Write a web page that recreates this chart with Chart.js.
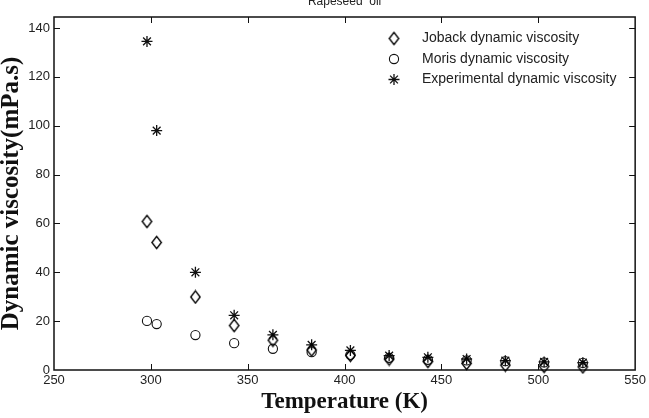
<!DOCTYPE html>
<html><head><meta charset="utf-8">
<script src="https://cdn.jsdelivr.net/npm/chart.js@4.4.1/dist/chart.umd.min.js"></script>
<style>
html,body{margin:0;padding:0;background:#fff;overflow:hidden;width:649px;height:418px;}
#wrap{position:absolute;left:0;top:-6px;width:649px;height:424px;}
</style></head><body>
<div id="wrap"><canvas id="c"></canvas></div>
<script>
const chartTitle = 'Rapeseed  oil';
const xAxisTitle = 'Temperature (K)';
const yAxisTitle = 'Dynamic viscosity(mPa.s)';
const seriesNames = ['Joback dynamic viscosity', 'Moris dynamic viscosity', 'Experimental dynamic viscosity'];
const temperatures = [298, 303, 323, 343, 363, 383, 403, 423, 443, 463, 483, 503, 523];
const jobackViscosity = [60.8, 52.2, 29.9, 18.2, 12.2, 8.2, 6.0, 4.5, 3.5, 2.7, 2.0, 1.5, 1.3];
const morisViscosity = [20.1, 18.8, 14.3, 11.0, 8.7, 7.3, 6.2, 5.0, 4.2, 3.9, 3.6, 3.1, 2.9];
const experimentalViscosity = [134.5, 98, 40, 22.4, 14.4, 10.3, 8.0, 5.9, 5.2, 4.5, 3.8, 3.3, 3.0];
const xTickValues = [250, 300, 350, 400, 450, 500, 550];
const yTickValues = [0, 20, 40, 60, 80, 100, 120, 140];

const toPoints = ys => temperatures.map((t, i) => ({x: t, y: ys[i]}));
const ink = '#111';

// tall diamond marker (MATLAB-style 'd')
function makeDiamond() {
  const c = document.createElement('canvas');
  c.width = 13; c.height = 15;
  const g = c.getContext('2d');
  g.strokeStyle = '#000'; g.lineWidth = 1.4;
  g.beginPath();
  g.moveTo(6.5, 1.3); g.lineTo(11.2, 7.5); g.lineTo(6.5, 13.7); g.lineTo(1.8, 7.5); g.closePath();
  g.stroke();
  return c;
}
const diamondMarker = makeDiamond();

const framePlugin = {
  id: 'frame',
  beforeDatasetsDraw(chart) {
    const {ctx, chartArea: a, scales} = chart;
    ctx.save();
    ctx.strokeStyle = ink;
    ctx.lineWidth = 1.5;
    ctx.strokeRect(a.left, a.top, a.right - a.left, a.bottom - a.top);
    ctx.lineWidth = 1;
    const L = 6;
    ctx.beginPath();
    scales.x.ticks.forEach(t => {
      const px = Math.round(scales.x.getPixelForValue(t.value)) + 0.5;
      if (px <= a.left + 1 || px >= a.right - 1) return;
      ctx.moveTo(px, a.bottom); ctx.lineTo(px, a.bottom - L);
      ctx.moveTo(px, a.top); ctx.lineTo(px, a.top + L);
    });
    scales.y.ticks.forEach(t => {
      const py = Math.round(scales.y.getPixelForValue(t.value)) + 0.5;
      if (py >= a.bottom - 1 || py <= a.top + 1) return;
      ctx.moveTo(a.left, py); ctx.lineTo(a.left + L, py);
      ctx.moveTo(a.right, py); ctx.lineTo(a.right - L, py);
    });
    ctx.stroke();
    ctx.restore();
  }
};

const legendPlugin = {
  id: 'insetLegend',
  afterDraw(chart) {
    const ctx = chart.ctx;
    const x0 = 394, y0 = 44.5, dy = 20.5;
    chart.data.datasets.forEach((ds, i) => {
      const y = y0 + i * dy;
      ctx.save();
      ctx.strokeStyle = ink;
      ctx.fillStyle = 'rgba(0,0,0,0)';
      ctx.lineWidth = ds.borderWidth;
      Chart.helpers.drawPoint(ctx, {pointStyle: ds.pointStyle, radius: ds.pointRadius, borderWidth: ds.borderWidth, rotation: 0}, x0, y);
      ctx.restore();
      ctx.save();
      ctx.fillStyle = '#222';
      ctx.font = '14px "Liberation Sans", Arial, sans-serif';
      ctx.textBaseline = 'middle';
      ctx.textAlign = 'left';
      ctx.fillText(ds.label, 422, y);
      ctx.restore();
    });
  }
};

const common = {showLine: false, borderColor: ink, backgroundColor: 'rgba(0,0,0,0)', borderWidth: 1.1, clip: false};

new Chart(document.getElementById('c'), {
  type: 'scatter',
  data: {
    datasets: [
      Object.assign({label: seriesNames[0], data: toPoints(jobackViscosity), pointStyle: diamondMarker, pointRadius: 6}, common),
      Object.assign({label: seriesNames[1], data: toPoints(morisViscosity), pointStyle: 'circle', pointRadius: 4.6}, common),
      Object.assign({label: seriesNames[2], data: toPoints(experimentalViscosity), pointStyle: 'star', pointRadius: 5.5}, common, {borderWidth: 1.3})
    ]
  },
  options: {
    responsive: true,
    maintainAspectRatio: false,
    animation: false,
    events: [],
    layout: {padding: {top: 0, right: 11, left: 0, bottom: 0}},
    plugins: {
      legend: {display: false},
      tooltip: {enabled: false},
      title: {
        display: true, text: chartTitle, fullSize: false, color: '#222',
        font: {family: '"Liberation Sans", Arial, sans-serif', size: 12, weight: 'normal'},
        padding: {top: 0, bottom: 8.6}
      }
    },
    scales: {
      x: {
        type: 'linear', min: 250, max: 550,
        afterBuildTicks(s) { s.ticks = xTickValues.map(v => ({value: v})); },
        afterFit(s) { s.height = 48; },
        grid: {display: false, drawTicks: false},
        border: {display: false},
        ticks: {color: '#222', padding: 3, maxRotation: 0, font: {family: '"Liberation Sans", Arial, sans-serif', size: 13}},
        title: {display: true, text: xAxisTitle, color: ink,
          font: {family: '"Liberation Serif", "Times New Roman", serif', size: 23, weight: 'bold', lineHeight: 1.2},
          padding: {top: 0, bottom: 2}}
      },
      y: {
        type: 'linear', min: 0, max: 144.5,
        afterBuildTicks(s) { s.ticks = yTickValues.map(v => ({value: v})); },
        afterFit(s) { s.width = 54; },
        grid: {display: false, drawTicks: false},
        border: {display: false},
        ticks: {color: '#222', padding: 4, font: {family: '"Liberation Sans", Arial, sans-serif', size: 13}},
        title: {display: true, text: yAxisTitle, color: ink,
          font: {family: '"Liberation Serif", "Times New Roman", serif', size: 25, weight: 'bold', lineHeight: 0.9},
          padding: {top: 0, bottom: 0}}
      }
    }
  },
  plugins: [framePlugin, legendPlugin]
});
</script>
</body></html>
